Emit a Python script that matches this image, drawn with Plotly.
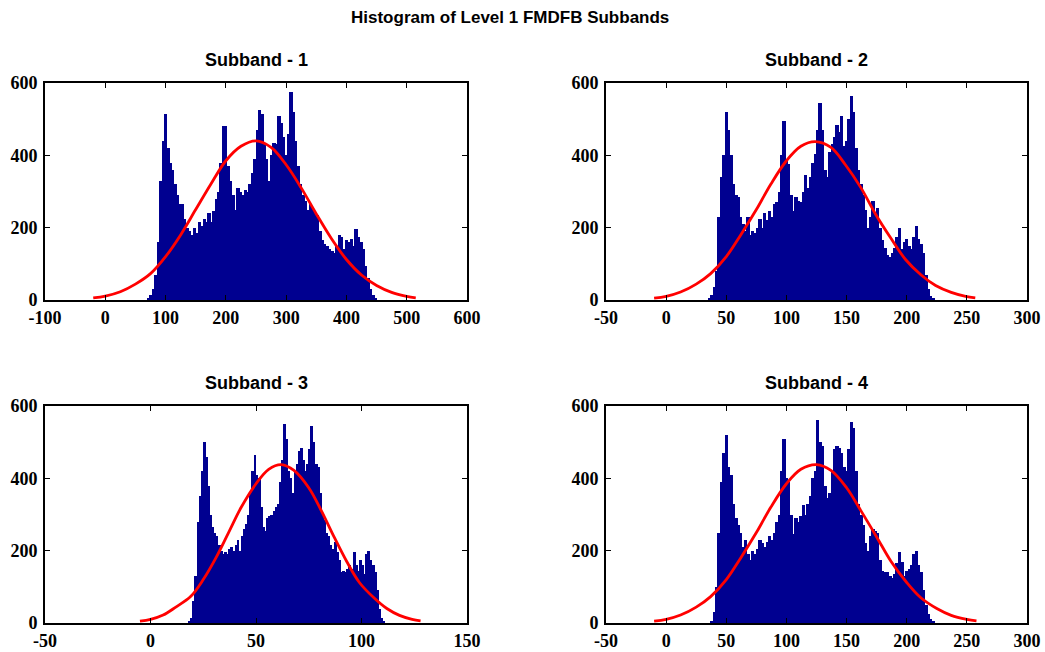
import plotly.graph_objects as go

# ---------------- data ----------------
main_title = "Histogram of Level 1 FMDFB Subbands"
subplot_titles = ["Subband - 1", "Subband - 2", "Subband - 3", "Subband - 4"]

# Subband 1 histogram: bins of width 4 starting at 70
sb1_bin_start = 70
sb1_bin_width = 4
sb1_counts = [5, 15, 30, 70, 160, 330, 440, 515, 420, 380, 360, 320, 290, 265, 265, 225,
              200, 190, 180, 200, 185, 215, 205, 225, 215, 240, 215, 245, 280, 300, 380, 480,
              480, 370, 330, 290, 250, 310, 300, 290, 305, 300, 320, 350, 390, 470, 525, 515,
              430, 390, 330, 400, 435, 430, 510, 490, 450, 400, 460, 575, 520, 440, 370, 320,
              290, 275, 250, 265, 255, 240, 235, 190, 165, 155, 148, 140, 135, 130, 150, 180,
              175, 140, 165, 160, 170, 150, 195, 175, 160, 140, 95, 60, 30, 15, 5]
sb1_fit_x = [-20, 0, 25, 50, 75, 100, 125, 150, 175, 200, 225, 250, 275, 300, 325, 350,
             375, 400, 425, 450, 475, 500, 515]
sb1_fit_y = [6, 11, 23, 44, 73, 120, 180, 250, 320, 385, 425, 440, 422, 374, 310, 238,
             170, 112, 69, 40, 21, 10, 6]

# Subband 2 histogram: bins of width 2 starting at 35
sb2_bin_start = 35
sb2_bin_width = 2
sb2_counts = [5, 15, 35, 80, 230, 340, 400, 520, 470, 400, 320, 290, 285, 230, 210, 190,
              230, 180, 190, 185, 200, 225, 200, 240, 220, 245, 230, 265, 270, 300, 400, 495,
              390, 375, 290, 245, 285, 275, 270, 300, 345, 310, 340, 380, 405, 470, 545, 470,
              360, 340, 410, 430, 450, 485, 465, 510, 425, 440, 500, 565, 520, 420, 360, 320,
              290, 250, 200, 230, 275, 235, 255, 200, 165, 145, 125, 120, 130, 145, 175, 200,
              140, 160, 170, 150, 140, 175, 205, 170, 155, 130, 70, 30, 12, 4]
sb2_fit_x = [-10, 0, 12, 25, 37, 50, 62, 75, 87, 100, 112, 124, 137, 149, 162, 174,
             187, 199, 212, 224, 237, 249, 257]
sb2_fit_y = [5, 10, 22, 44, 73, 120, 180, 250, 320, 385, 425, 438, 422, 374, 310, 238,
             170, 112, 69, 40, 21, 10, 6]

# Subband 3 histogram: bins of width 1 starting at 18
sb3_bin_start = 18
sb3_bin_width = 1
sb3_counts = [3, 15, 60, 130, 280, 350, 420, 500, 460, 380, 300, 265, 250, 240, 215, 200,
              190, 195, 190, 205, 210, 200, 215, 230, 200, 240, 260, 275, 300, 360, 420, 465,
              410, 400, 320, 265, 255, 290, 295, 300, 310, 320, 330, 390, 450, 550, 510, 420,
              400, 360, 420, 440, 475, 485, 450, 420, 440, 480, 545, 500, 440, 430, 360, 300,
              285, 250, 240, 215, 205, 225, 195, 175, 140, 145, 140, 150, 160, 150, 195, 160,
              145, 175, 160, 135, 190, 200, 175, 160, 140, 90, 40, 15, 5]
sb3_fit_x = [-5, 0, 6, 12, 19, 25, 31, 37, 43, 50, 56, 62, 68, 75, 81, 87,
             93, 99, 106, 112, 118, 124, 128]
sb3_fit_y = [5, 10, 22, 44, 73, 120, 180, 250, 320, 385, 425, 438, 422, 374, 310, 238,
             170, 112, 69, 40, 21, 10, 6]

# Subband 4 histogram: bins of width 2 starting at 37
sb4_bin_start = 37
sb4_bin_width = 2
sb4_counts = [5, 30, 100, 250, 390, 470, 520, 430, 410, 330, 290, 270, 250, 210, 230, 190,
              175, 200, 190, 205, 230, 220, 210, 225, 240, 230, 250, 280, 300, 420, 510, 400,
              390, 300, 245, 290, 280, 295, 325, 300, 330, 350, 400, 420, 560, 500, 490, 380,
              345, 360, 420, 480, 490, 485, 470, 430, 420, 480, 555, 540, 420, 330, 300, 270,
              220, 200, 240, 260, 255, 250, 175, 145, 140, 140, 130, 125, 135, 165, 195, 170,
              130, 145, 150, 160, 190, 200, 160, 140, 90, 50, 25, 10, 4]
sb4_fit_x = [-10, 0, 12, 25, 37, 50, 62, 75, 87, 100, 112, 125, 137, 150, 162, 175,
             187, 200, 212, 225, 237, 250, 258]
sb4_fit_y = [5, 10, 22, 44, 73, 120, 180, 250, 320, 385, 425, 438, 422, 374, 310, 238,
             170, 112, 69, 40, 21, 10, 6]

x_ranges = [[-100, 600], [-50, 300], [-50, 150], [-50, 300]]
x_ticks = [[-100, 0, 100, 200, 300, 400, 500, 600],
           [-50, 0, 50, 100, 150, 200, 250, 300],
           [-50, 0, 50, 100, 150],
           [-50, 0, 50, 100, 150, 200, 250, 300]]
y_range = [0, 600]
y_ticks = [0, 200, 400, 600]

# ---------------- figure ----------------
W, H = 1045, 652
BAR_COLOR = "#000090"
FIT_COLOR = "#FF0000"

# axes boxes in pixels (left, right, top, bottom)
boxes = [(45, 467, 83, 300), (606, 1027, 83, 300),
         (45, 467, 406, 623), (606, 1027, 406, 623)]

hists = [(sb1_bin_start, sb1_bin_width, sb1_counts, sb1_fit_x, sb1_fit_y),
         (sb2_bin_start, sb2_bin_width, sb2_counts, sb2_fit_x, sb2_fit_y),
         (sb3_bin_start, sb3_bin_width, sb3_counts, sb3_fit_x, sb3_fit_y),
         (sb4_bin_start, sb4_bin_width, sb4_counts, sb4_fit_x, sb4_fit_y)]

fig = go.Figure()
tick_font = dict(family="Liberation Serif", size=18, color="black", weight="bold")

annotations = []
for i, ((start, width, counts, fx, fy), (l, r, t, b)) in enumerate(zip(hists, boxes)):
    n = "" if i == 0 else str(i + 1)
    xa, ya = "x" + n, "y" + n
    fig.add_trace(go.Bar(
        x0=start + width / 2, dx=width, y=counts, width=width * 1.35,
        marker=dict(color=BAR_COLOR, line=dict(width=0)),
        xaxis=xa, yaxis=ya, showlegend=False, hoverinfo="x+y"))
    fig.add_trace(go.Scatter(
        x=fx, y=fy, mode="lines", line=dict(color=FIT_COLOR, width=2.8, shape="spline"),
        xaxis=xa, yaxis=ya, showlegend=False))
    axis_common = dict(showgrid=False, zeroline=False, showline=True, linecolor="black",
                       linewidth=1.6, mirror="ticks", ticks="inside", ticklen=5,
                       tickwidth=1.3, tickcolor="black", tickfont=tick_font,
                       automargin=False)
    fig.layout["xaxis" + n] = dict(
        domain=[l / W, r / W], range=x_ranges[i], tickmode="array",
        tickvals=x_ticks[i], ticktext=[str(v) for v in x_ticks[i]],
        anchor=ya, ticklabelstandoff=1, **axis_common)
    fig.layout["yaxis" + n] = dict(
        domain=[(H - b) / H, (H - t) / H], range=y_range, tickmode="array",
        tickvals=y_ticks, ticktext=[str(v) for v in y_ticks],
        anchor=xa, ticklabelstandoff=2, **axis_common)
    annotations.append(dict(
        text="<b>" + subplot_titles[i] + "</b>", xref="paper", yref="paper",
        x=(l + r) / 2 / W, y=(H - (t - 23)) / H, xanchor="center", yanchor="middle",
        showarrow=False, font=dict(family="Liberation Sans", size=18, color="black")))

annotations.append(dict(
    text="<b>" + main_title + "</b>", xref="paper", yref="paper",
    x=510 / W, y=(H - 18) / H, xanchor="center", yanchor="middle", showarrow=False,
    font=dict(family="Liberation Sans", size=17, color="black")))

fig.update_layout(
    width=W, height=H, margin=dict(l=0, r=0, t=0, b=0, autoexpand=False),
    paper_bgcolor="white", plot_bgcolor="white", bargap=0, barmode="overlay",
    annotations=annotations, showlegend=False)

fig.write_html(
    "out.html",
    config={"displayModeBar": False},
    post_script="document.body.style.margin='0';document.body.style.padding='0';"
                "document.body.style.overflow='hidden';")
